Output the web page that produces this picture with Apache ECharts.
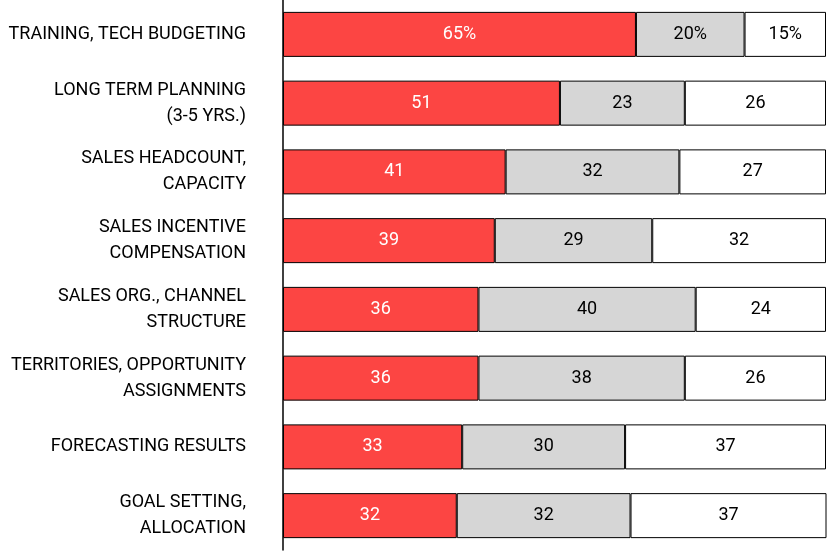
<!DOCTYPE html>
<html><head><meta charset="utf-8">
<script src="https://cdn.jsdelivr.net/npm/echarts@6/dist/echarts.min.js"></script>
<style>html,body{margin:0;padding:0;background:#fff}#c{width:835px;height:552px}</style>
</head><body><div id="c"></div>
<script>
const categories = ["TRAINING, TECH BUDGETING","LONG TERM PLANNING\n(3-5 YRS.)","SALES HEADCOUNT,\nCAPACITY","SALES INCENTIVE\nCOMPENSATION","SALES ORG., CHANNEL\nSTRUCTURE","TERRITORIES, OPPORTUNITY\nASSIGNMENTS","FORECASTING RESULTS","GOAL SETTING,\nALLOCATION"];
const redValues = [65,51,41,39,36,36,33,32];
const grayValues = [20,23,32,29,40,38,30,32];
const whiteValues = [15,26,27,32,24,26,37,37];
const font = "Roboto";
function mk(data, color, textColor){
  return {type:'bar', stack:'s', data, barWidth:45,
    itemStyle:{color, borderColor:'#000', borderWidth:1},
    label:{show:true, position:'inside', color:textColor, fontSize:18, fontFamily:font,
      formatter:p=>p.dataIndex===0?p.value+'%':String(p.value)}};
}
const chart = echarts.init(document.getElementById('c'));
chart.setOption({
  animation:false,
  grid:{left:283,right:9,top:-4,bottom:2},
  xAxis:{type:'value',min:0,max:100,show:false},
  yAxis:{type:'category',data:categories,inverse:true,
    axisLine:{lineStyle:{color:'#000',width:1.5}},axisTick:{show:false},
    axisLabel:{color:'#000',fontSize:18,fontFamily:font,margin:37,lineHeight:26,align:'right'}},
  series:[mk(redValues,'#fc4543','#fff'),mk(grayValues,'#d6d6d6','#000'),mk(whiteValues,'#fff','#000')]
});
</script></body></html>
